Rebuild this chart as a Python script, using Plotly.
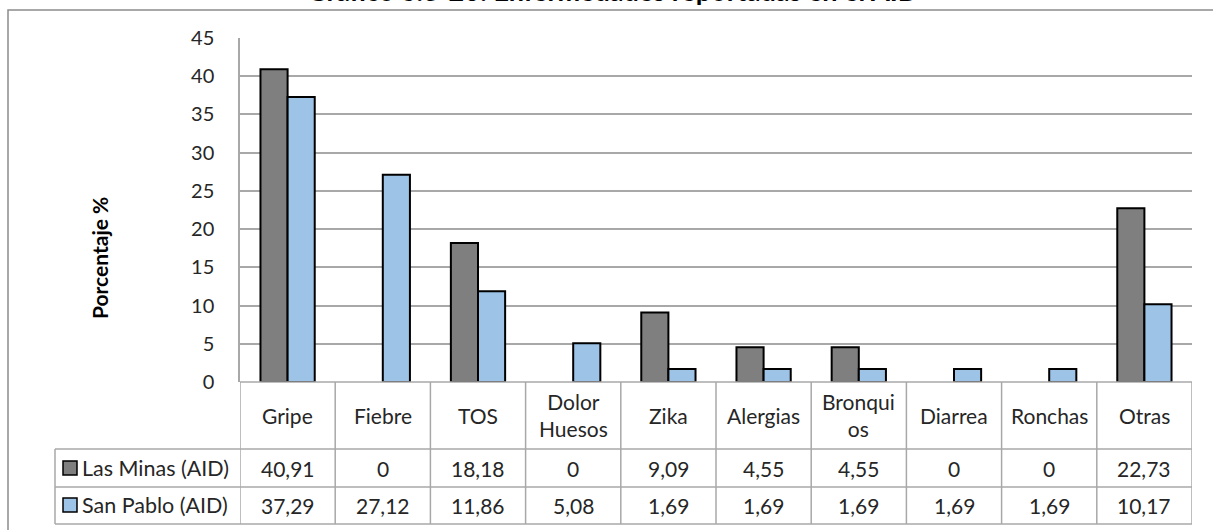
import plotly.graph_objects as go

categories = ["Gripe", "Fiebre", "TOS", "Dolor Huesos", "Zika", "Alergias",
              "Bronquios", "Diarrea", "Ronchas", "Otras"]
header_labels = ["Gripe", "Fiebre", "TOS", "Dolor<br>Huesos", "Zika", "Alergias",
                 "Bronqui<br>os", "Diarrea", "Ronchas", "Otras"]
series_names = ["Las Minas (AID)", "San Pablo (AID)"]
las_minas = [40.91, 0, 18.18, 0, 9.09, 4.55, 4.55, 0, 0, 22.73]
san_pablo = [37.29, 27.12, 11.86, 5.08, 1.69, 1.69, 1.69, 1.69, 1.69, 10.17]
colors = ["#7f7f7f", "#9dc3e6"]
title = "Gráfico 6.3-20: Enfermedades reportadas en el AID"
y_title = "Porcentaje %"

W, H = 1213, 530
FONT = "Lato"
TXT = "#262626"
GRID = "#a8a8a8"
TFS = 21  # table font size

def px(x):
    return x / W

def py(y):
    return 1 - y / H

x0p, x1p = 240, 1192
ytop, ybot = 38, 382
row_y = [382, 449, 487, 524]

fig = go.Figure()
for name, vals, col in zip(series_names, [las_minas, san_pablo], colors):
    fig.add_trace(go.Bar(
        x=categories, y=[v if v else None for v in vals], name=name,
        marker=dict(color=col, line=dict(color="#000000", width=2)),
    ))

shapes = []
annotations = []

# outer chart border
shapes.append(dict(type="rect", xref="paper", yref="paper",
                   x0=px(8), x1=px(1230), y0=py(560), y1=py(10),
                   line=dict(color="#8c8c8c", width=1.5), layer="below"))

# table lines
shapes.append(dict(type="line", xref="paper", yref="paper",
                   x0=px(x0p), x1=px(x1p), y0=py(row_y[0]), y1=py(row_y[0]),
                   line=dict(color=GRID, width=1.5)))
for ry in row_y[1:]:
    shapes.append(dict(type="line", xref="paper", yref="paper",
                       x0=px(55), x1=px(x1p), y0=py(ry), y1=py(ry),
                       line=dict(color=GRID, width=1.5)))
shapes.append(dict(type="line", xref="paper", yref="paper",
                   x0=px(55), x1=px(55), y0=py(row_y[1]), y1=py(row_y[3]),
                   line=dict(color=GRID, width=1.5)))
for i in range(len(categories) + 1):
    shapes.append(dict(type="line", xref="x", yref="paper",
                       x0=i - 0.5, x1=i - 0.5, y0=py(row_y[3]), y1=py(row_y[0]),
                       line=dict(color=GRID, width=1.5)))

for c, lab in zip(categories, header_labels):
    annotations.append(dict(xref="x", yref="paper", x=c, y=py(415),
                            text=lab, showarrow=False,
                            font=dict(family=FONT, size=TFS, color=TXT),
                            xanchor="center", yanchor="middle"))

def fmt(v):
    if v == 0:
        return "0"
    return f"{v:.2f}".replace(".", ",")

row_centers = [468, 505]
for vals, rc, name, col in zip([las_minas, san_pablo], row_centers, series_names, colors):
    for c, v in zip(categories, vals):
        annotations.append(dict(xref="x", yref="paper", x=c, y=py(rc),
                                text=fmt(v), showarrow=False,
                                font=dict(family=FONT, size=TFS, color=TXT),
                                xanchor="center", yanchor="middle"))
    shapes.append(dict(type="rect", xref="paper", yref="paper",
                       x0=px(63), x1=px(77), y0=py(rc + 7), y1=py(rc - 7),
                       fillcolor=col, line=dict(color="#000000", width=1.5)))
    annotations.append(dict(xref="paper", yref="paper", x=px(80), y=py(rc),
                            text=name, showarrow=False,
                            font=dict(family=FONT, size=TFS + 0.5, color=TXT),
                            xanchor="left", yanchor="middle"))

annotations.append(dict(xref="paper", yref="paper", x=px(99), y=py(258),
                        text=f"<b>{y_title}</b>", showarrow=False, textangle=-90,
                        font=dict(family=FONT, size=21, color="#000000"),
                        xanchor="center", yanchor="middle"))
# chart title, cut off at the top edge as in the reference
annotations.append(dict(xref="paper", yref="paper", x=px(612), y=py(8.5),
                        text=f"<b>{title}</b>", showarrow=False,
                        font=dict(family=FONT, size=27, color="#000000"),
                        xanchor="center", yanchor="bottom"))

fig.update_layout(
    width=W, height=H,
    margin=dict(l=0, r=0, t=0, b=0, autoexpand=False),
    paper_bgcolor="white", plot_bgcolor="white",
    barmode="group", bargap=0.43, bargroupgap=0,
    showlegend=False,
    shapes=shapes, annotations=annotations,
    xaxis=dict(domain=[px(x0p), px(x1p)], showticklabels=False, showgrid=False,
               showline=False, zeroline=False, ticks="",
               range=[-0.5, len(categories) - 0.5]),
    yaxis=dict(domain=[py(ybot), py(ytop)], range=[0, 45], dtick=5,
               showgrid=True, gridcolor=GRID, gridwidth=1.5,
               showline=True, linecolor=GRID, linewidth=1.5,
               zeroline=False, ticks="", ticklabelstandoff=20,
               tickfont=dict(family=FONT, size=20, color=TXT)),
)

fig.write_html("out.html", config={"displayModeBar": False},
               post_script="document.body.style.margin='0';document.body.style.overflow='hidden';")
